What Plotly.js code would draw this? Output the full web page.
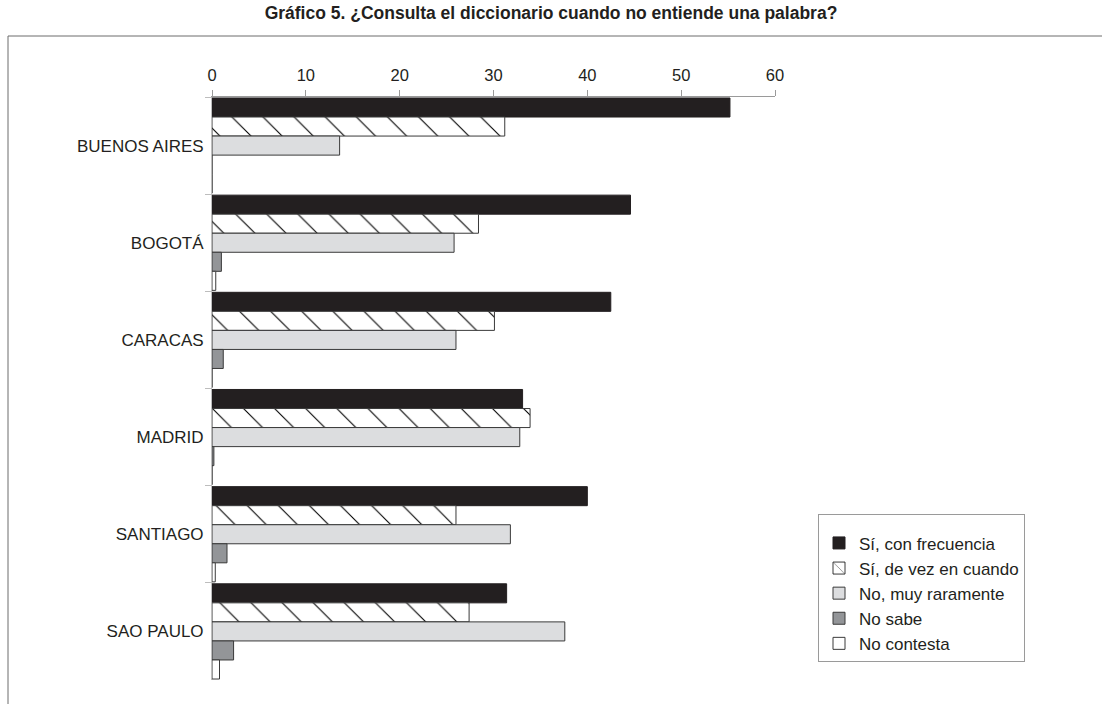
<!DOCTYPE html>
<html>
<head>
<meta charset="utf-8">
<script src="https://cdn.plot.ly/plotly-3.0.1.min.js"></script>
<style>html,body{margin:0;padding:0;background:#fff;}#chart{width:1102px;height:704px;}</style>
</head>
<body>
<div id="chart"></div>
<script>
const cities = ["BUENOS AIRES", "BOGOTÁ", "CARACAS", "MADRID", "SANTIAGO", "SAO PAULO"];
const siConFrecuencia = [55.2, 44.6, 42.5, 33.1, 40.0, 31.4];
const siDeVezEnCuando = [31.2, 28.4, 30.1, 33.9, 26.0, 27.4];
const noMuyRaramente = [13.6, 25.8, 26.0, 32.8, 31.8, 37.6];
const noSabe = [0, 1.0, 1.2, 0.2, 1.6, 2.3];
const noContesta = [0, 0.4, 0, 0, 0.35, 0.8];
const seriesNames = ["Sí, con frecuencia", "Sí, de vez en cuando", "No, muy raramente", "No sabe", "No contesta"];
const xTicks = [0, 10, 20, 30, 40, 50, 60];

const edge = {color: '#3a3a3a', width: 1};
const traces = [
  {name: seriesNames[0], x: siConFrecuencia, marker: {color: '#231f20', line: {color: '#231f20', width: 1}}},
  {name: seriesNames[1], x: siDeVezEnCuando, marker: {color: '#ffffff', line: edge,
    pattern: {shape: '\\', size: 22, solidity: 0.05, fgcolor: '#000000', bgcolor: '#ffffff', fillmode: 'replace'}}},
  {name: seriesNames[2], x: noMuyRaramente, marker: {color: '#dcdddf', line: edge}},
  {name: seriesNames[3], x: noSabe, marker: {color: '#939598', line: edge}},
  {name: seriesNames[4], x: noContesta, marker: {color: '#ffffff', line: edge}}
].map(t => Object.assign({type: 'bar', orientation: 'h', y: cities, hoverinfo: 'x+name'}, t));

const L = 212, R = 775, T = 97, B = 680, W = 1102, H = 704;
const pw = R - L, ph = B - T;
const px = v => (v - L) / pw;
const py = v => (B - v) / ph;

const layout = {
  width: W, height: H,
  margin: {l: L, r: W - R, t: T, b: H - B},
  paper_bgcolor: '#ffffff', plot_bgcolor: '#ffffff',
  font: {family: 'Liberation Sans, Arial, sans-serif', color: '#231f20', size: 16},
  title: {text: '<b>Gráfico 5. ¿Consulta el diccionario cuando no entiende una palabra?</b>',
    xref: 'container', x: 0.5, xanchor: 'center', yref: 'container', y: 1 - 13 / H, yanchor: 'middle',
    font: {size: 17.5, color: '#231f20', family: 'Liberation Sans, Arial, sans-serif'}},
  barmode: 'group', bargap: 0.02, bargroupgap: 0,
  showlegend: true,
  legend: {x: px(818), xanchor: 'left', y: py(514), yanchor: 'top', bordercolor: '#9a9a9a', borderwidth: 1,
    bgcolor: '#ffffff', font: {size: 17, color: '#231f20'}, traceorder: 'normal', itemwidth: 30,
    title: {text: ' ', font: {size: 8}}},
  xaxis: {side: 'top', range: [0, 60], tickvals: xTicks, ticktext: xTicks.map(String), ticks: 'outside', ticklen: 6,
    tickcolor: '#9a9a9a', showline: true, linecolor: '#9a9a9a', linewidth: 1, showgrid: false, zeroline: false,
    tickfont: {size: 16.5}, ticklabelstandoff: 2, fixedrange: true},
  yaxis: {type: 'category', autorange: 'reversed', ticks: 'outside', tickson: 'boundaries', ticklen: 6,
    tickcolor: '#bdbdbd', showline: true, linecolor: '#bdbdbd', linewidth: 1, showgrid: false, zeroline: false,
    tickfont: {size: 17}, ticklabelstandoff: 4, fixedrange: true},
  shapes: [
    {type: 'rect', xref: 'paper', yref: 'paper', x0: px(8), x1: px(1110), y0: py(36), y1: py(712),
      line: {color: '#6d6d6d', width: 1}, fillcolor: 'rgba(0,0,0,0)', layer: 'below'}
  ]
};

Plotly.newPlot('chart', traces, layout, {displayModeBar: false, staticPlot: true});
</script>
</body>
</html>
